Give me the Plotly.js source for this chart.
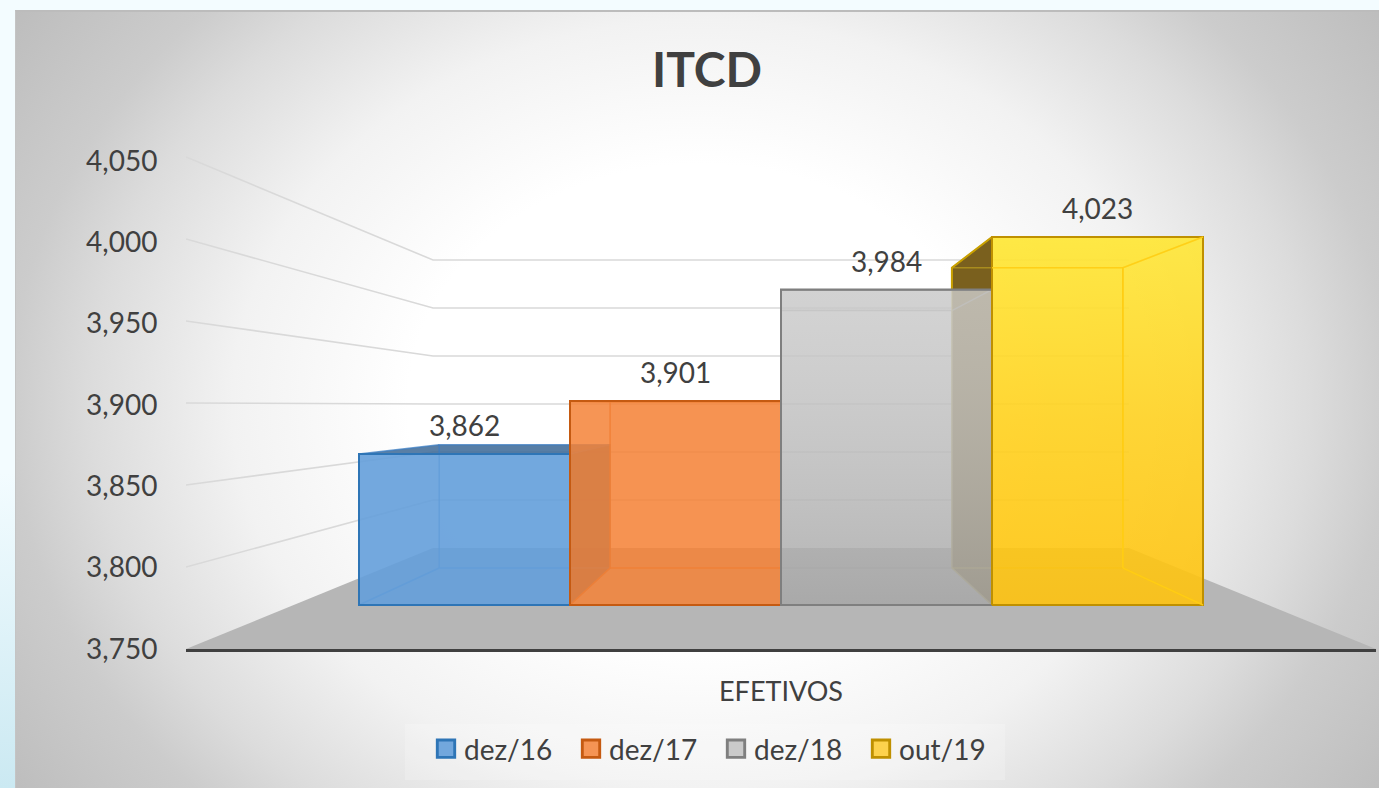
<!DOCTYPE html>
<html>
<head>
<meta charset="utf-8">
<script src="https://cdn.plot.ly/plotly-3.0.0.min.js"></script>
<style>
html,body{margin:0;padding:0;width:1379px;height:788px;overflow:hidden;background:linear-gradient(180deg,#f3fcff 0%,#f3fcff 60%,#cbe9f2 100%);}
#bg{position:absolute;left:15px;top:10px;width:1364px;height:778px;box-sizing:border-box;border-top:2px solid #bcbcbc;border-left:1px solid #c4c4c4;
background:radial-gradient(ellipse 976px 800px at 685px 392px,#ffffff 0%,#ffffff 30%,#f2f2f2 48%,#dcdcdc 62.5%,#cccccc 70.7%,#bcbcbc 86.6%,#b8b8b8 100%);}
#chart{position:absolute;left:0;top:0;width:1379px;height:788px;}
</style>
</head>
<body>
<div id="bg"></div>
<div id="chart"></div>
<script>
// ---- data ----
const category = "EFETIVOS";
const seriesNames = ["dez/16", "dez/17", "dez/18", "out/19"];
const seriesValues = [3862, 3901, 3984, 4023];
const tickValues = [3750, 3800, 3850, 3900, 3950, 4000, 4050];
const chartTitle = "ITCD";

// ---- styles ----
const fills = ["rgba(100,158,218,0.90)", "rgba(244,130,55,0.85)", "rgba(190,190,190,0.78)", "rgba(255,200,30,0.78)"];
const borders = ["#2E75B6", "#C55A11", "#7F7F7F", "#BF9000"];
const edges = ["rgba(60,125,195,0.75)", "rgba(214,105,30,0.85)", "rgba(150,150,150,0.7)", "rgba(200,170,30,0.6)"];
const textColor = "#404040";
const fontName = "Lato, 'Open Sans', sans-serif";

// ---- oblique-projection parameters ----
const BASE = 3750;
const PLOT_H = 649;                 // plot-area height in px
const PX_LABEL = 1.627;             // px per unit on the labelled axis
const PX_FRONT = 1.348, FRONT_DROP = 44;   // bar front plane
const PX_BACK = 1.10, BACK_DROP = 81;      // bar back plane
const PX_WALL = 0.96, WALL_DROP = 101;     // back wall
const PX_SIDE = 1.64;               // outer end of side-wall gridlines
const XBACK = 0.81, XWALL = 0.8246;
const BAND = 844;                   // px per x unit

const yMax = BASE + PLOT_H / PX_LABEL;
const u = (drop, scale, v) => BASE + (drop + (v - BASE) * scale) / PX_LABEL;
const front = v => u(FRONT_DROP, PX_FRONT, v);
const back = v => u(BACK_DROP, PX_BACK, v);
const wall = v => u(WALL_DROP, PX_WALL, v);
const side = v => u(0, PX_SIDE, v);
const xLim = 595 / BAND;

const poly = (xs, ys, color, lineColor, axis) => ({
  type: "scatter", mode: "lines", x: xs.concat(xs[0]), y: ys.concat(ys[0]),
  fill: "toself", fillcolor: color, line: {color: lineColor || "rgba(0,0,0,0)", width: lineColor ? 1.5 : 0},
  hoverinfo: "skip", showlegend: false, xaxis: "x", yaxis: axis || "y"
});

const traces = [];

// floor
traces.push(poly([-xLim, -XWALL * 0.5, XWALL * 0.5, xLim], [BASE, wall(BASE), wall(BASE), BASE], "#b6b6b6"));

// wall + side gridlines
const gx = [], gy = [];
tickValues.filter(t => t > BASE).forEach(t => {
  gx.push(-xLim, -XWALL * 0.5, XWALL * 0.5, null);
  gy.push(side(t), wall(t), wall(t), null);
});
traces.push({type: "scatter", mode: "lines", x: gx, y: gy, line: {color: "#d9d9d9", width: 1.6},
  hoverinfo: "skip", showlegend: false, xaxis: "x", yaxis: "y"});

const barW = 1 / seriesValues.length;
const leftOf = i => -0.5 + i * barW;

// hidden faces of the boxes (seen through the translucent fronts)
seriesValues.forEach((v, i) => {
  const l = leftOf(i), r = l + barW, bl = l * XBACK, br = r * XBACK;
  traces.push(poly([bl, br, br, bl], [back(BASE), back(BASE), back(v), back(v)],
    ["rgba(91,155,213,0.08)", "rgba(237,125,49,0.10)", "rgba(165,165,165,0.12)", "rgba(255,215,40,0.15)"][i]));
  traces.push(poly([l, r, br, bl], [front(v), front(v), back(v), back(v)],
    ["rgba(60,105,150,0.85)", "rgba(237,125,49,0.2)", "rgba(150,150,150,0.2)", "rgba(255,220,40,0.2)"][i]));
});
// dark inner side faces
[[0, true], [3, false]].forEach(([i, rightSide]) => {
  const v = seriesValues[i], l = leftOf(i), r = l + barW;
  const a = rightSide ? r : l, b = a * XBACK;
  traces.push(poly([a, b, b, a], [front(v), back(v), back(BASE), front(BASE)],
    i === 0 ? "rgba(40,90,130,0.85)" : "rgba(122,96,30,1)"));
});

// box edges
seriesValues.forEach((v, i) => {
  const l = leftOf(i), r = l + barW, bl = l * XBACK, br = r * XBACK;
  const ex = [bl, br, br, bl, bl, null, l, bl, null, r, br, null, l, bl, null, r, br];
  const ey = [back(BASE), back(BASE), back(v), back(v), back(BASE), null, front(v), back(v), null, front(v), back(v), null, front(BASE), back(BASE), null, front(BASE), back(BASE)];
  traces.push({type: "scatter", mode: "lines", x: ex, y: ey, line: {color: edges[i], width: 1.5},
    hoverinfo: "skip", showlegend: false, xaxis: "x", yaxis: "y"});
});
// gold outline of the dark yellow side above the grey bar
(() => {
  const v = seriesValues[3], a = leftOf(3), b = a * XBACK;
  traces.push({type: "scatter", mode: "lines", x: [a, b, b], y: [front(v), back(v), front(seriesValues[2])],
    line: {color: "#C9A000", width: 2}, hoverinfo: "skip", showlegend: false, xaxis: "x", yaxis: "y"});
})();

// front faces: the real bars
seriesValues.forEach((v, i) => {
  traces.push({
    type: "bar", name: seriesNames[i], x: [0], y: [v - BASE], base: [BASE],
    marker: {color: fills[i], line: {color: borders[i], width: 2}},
    xaxis: "x", yaxis: "y2", hoverinfo: "skip", offsetgroup: String(i)
  });
});

// sheen on the grey and yellow fronts, yellow inner edges on top
[[2, [[0, "rgba(120,120,120,0.28)"], [1, "rgba(255,255,255,0.18)"]]],
 [3, [[0, "rgba(255,190,0,0.5)"], [0.5, "rgba(255,216,30,0.5)"], [1, "rgba(255,255,70,0.5)"]]]].forEach(([i, scale]) => {
  const v = seriesValues[i], l = leftOf(i), r = l + barW;
  traces.push({type: "scatter", mode: "lines", x: [l, r, r, l, l], y: [front(BASE), front(BASE), front(v), front(v), front(BASE)],
    fill: "toself", fillcolor: "rgba(255,225,40,0.5)",
    fillgradient: {type: "vertical", start: front(BASE), stop: front(v), colorscale: scale},
    line: {color: borders[i], width: 2}, hoverinfo: "skip", showlegend: false, xaxis: "x", yaxis: "y3"});
});
(() => {
  const v = seriesValues[3], l = leftOf(3), r = l + barW, bl = l * XBACK, br = r * XBACK;
  traces.push({type: "scatter", mode: "lines",
    x: [l, br, br, null, r, br, br, null, r, br],
    y: [back(v), back(v), back(BASE), null, front(v), back(v), back(BASE), null, front(BASE), back(BASE)],
    line: {color: "rgba(255,205,20,0.9)", width: 1.5}, hoverinfo: "skip", showlegend: false, xaxis: "x", yaxis: "y3"});
})();

const labels = seriesValues.map((v, i) => ({
  xref: "x", yref: "y2", x: leftOf(i) + barW / 2, y: v, yshift: 29,
  text: v.toLocaleString("en-US"), showarrow: false, yanchor: "middle", xanchor: "center",
  font: {family: fontName, size: 28, color: textColor}
}));

const layout = {
  width: 1379, height: 788, autosize: false,
  margin: {l: 186, r: 3, t: 0, b: 139, pad: 0},
  paper_bgcolor: "rgba(0,0,0,0)", plot_bgcolor: "rgba(0,0,0,0)",
  font: {family: fontName, color: textColor},
  title: {text: chartTitle, x: 707 / 1379, xanchor: "center", xref: "container", y: 1 - 70 / 788, yanchor: "middle", yref: "container",
    font: {family: fontName, size: 48, weight: 700, color: textColor}},
  barmode: "group", bargap: 0, bargroupgap: 0,
  xaxis: {type: "linear", range: [-xLim, xLim], tickmode: "array", tickvals: [0], ticktext: [category],
    showgrid: false, zeroline: false, showline: true, linecolor: "#404040", linewidth: 3,
    ticks: "outside", ticklen: 17, tickcolor: "rgba(0,0,0,0)", tickfont: {family: fontName, size: 27, color: textColor}},
  yaxis: {range: [BASE, yMax], tickmode: "array", tickvals: tickValues, tickformat: ",",
    showgrid: false, zeroline: false, showline: false,
    ticks: "outside", ticklen: 22, tickcolor: "rgba(0,0,0,0)", tickfont: {family: fontName, size: 28, color: textColor}},
  yaxis2: {overlaying: "y", visible: false, range: [BASE - FRONT_DROP / PX_FRONT, BASE + (PLOT_H - FRONT_DROP) / PX_FRONT]},
  yaxis3: {overlaying: "y", visible: false, range: [BASE, yMax]},
  shapes: [{type: "rect", xref: "paper", yref: "paper", layer: "below",
    x0: (405 - 186) / 1190, x1: (1005 - 186) / 1190, y0: (649 - 780) / 649, y1: (649 - 724) / 649,
    fillcolor: "rgba(255,255,255,0.2)", line: {width: 0}}],
  legend: {orientation: "h", x: (424 - 186) / 1190, xanchor: "left", y: (649 - 724) / 649, yanchor: "top",
    bgcolor: "rgba(0,0,0,0)", font: {family: fontName, size: 28, color: textColor},
    entrywidth: 100, entrywidthmode: "pixels", itemwidth: 30, traceorder: "normal", itemclick: false, itemdoubleclick: false},
  annotations: labels,
  showlegend: true
};

Plotly.newPlot("chart", traces, layout, {displayModeBar: false, responsive: false}).then(gd => {
  gd.querySelectorAll(".legend .legendpoints path").forEach(p => {
    p.setAttribute("transform", "translate(22,0) scale(1.45)");
  });
});
</script>
</body>
</html>
